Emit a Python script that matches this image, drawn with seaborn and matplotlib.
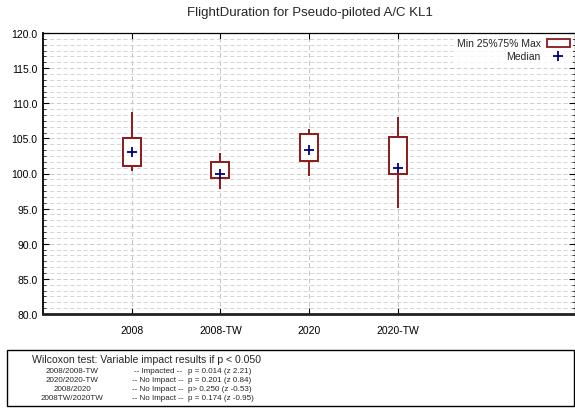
import numpy as np
import pandas as pd
import seaborn as sns
import matplotlib
matplotlib.use("Agg")
import matplotlib.pyplot as plt
from matplotlib.patches import Patch, Rectangle
from matplotlib.lines import Line2D
from matplotlib.ticker import MultipleLocator

# ---- data ----
categories = ["2008", "2008-TW", "2020", "2020-TW"]
mins = [100.4, 97.8, 99.7, 95.1]
q1s = [101.0, 99.3, 101.8, 99.9]
medians = [103.1, 100.0, 103.35, 100.8]
q3s = [105.0, 101.7, 105.6, 105.25]
maxs = [108.8, 102.9, 106.3, 108.0]

test_pairs = ["2008/2008-TW", "2020/2020-TW", "2008/2020", "2008TW/2020TW"]
test_results = ["-- Impacted --", "-- No Impact --", "-- No Impact --", "-- No Impact --"]
test_stats = ["p = 0.014 (z 2.21)", "p = 0.201 (z 0.84)", "p> 0.250 (z -0.53)", "p = 0.174 (z -0.95)"]

title = "FlightDuration for Pseudo-piloted A/C KL1"
header = "Wilcoxon test: Variable impact results if p < 0.050"

# long-form table: five summary values per category reproduce the box exactly
rows = []
for c, a, b, m, d, e in zip(categories, mins, q1s, medians, q3s, maxs):
    for v in (a, b, m, d, e):
        rows.append({"cat": c, "val": v})
df = pd.DataFrame(rows)
med_df = pd.DataFrame({"cat": categories, "val": medians})

sns.set_theme(style="white")
plt.rcParams["font.family"] = ["Liberation Sans", "DejaVu Sans"]

box_col = "#8b1a1a"
med_col = "#000080"

fig = plt.figure(figsize=(5.75, 4.14), dpi=100)
ax = fig.add_axes([43 / 575, 1 - 315 / 414, 1 - 43 / 575, (315 - 34) / 414])

sns.boxplot(data=df, x="cat", y="val", order=categories, whis=(0, 100), width=0.2,
            ax=ax, color="white", linecolor=box_col, linewidth=1.4,
            showcaps=False, medianprops={"visible": False}, fliersize=0, zorder=3)
sns.scatterplot(data=med_df, x="cat", y="val", marker="+", s=55, color=med_col,
                linewidth=1.3, ax=ax, zorder=5, legend=False)

ax.set_xlim(-1, 5)
ax.set_ylim(80, 120)
ax.yaxis.set_major_locator(MultipleLocator(5))
ax.yaxis.set_minor_locator(MultipleLocator(5 / 6))
ax.set_yticklabels([f"{v:.1f}" for v in ax.get_yticks()])
ax.set_xlabel("")
ax.set_ylabel("")

dash = (0, (5, 3))
ax.grid(which="major", axis="y", color="#c4c4c4", linestyle=dash, linewidth=0.6)
ax.grid(which="minor", axis="y", color="#cfcfcf", linestyle=dash, linewidth=0.6)
ax.grid(which="major", axis="x", color="#c4c4c4", linestyle=dash, linewidth=0.7)
ax.set_axisbelow(True)

ax.tick_params(axis="both", which="major", direction="in", length=4, width=0.8,
               labelsize=7.5, colors="black", top=True, right=True, left=True, bottom=True, pad=4)
ax.tick_params(axis="y", which="minor", direction="in", length=2, width=0.6, left=True, right=True)
ax.tick_params(axis="x", which="major", pad=8)
for s in ["left", "top", "right"]:
    ax.spines[s].set_color("black")
    ax.spines[s].set_linewidth(0.9)
ax.spines["left"].set_linewidth(1.3)
ax.spines["bottom"].set_color("#222222")
ax.spines["bottom"].set_linewidth(2.0)

handles = [Patch(facecolor="white", edgecolor=box_col, linewidth=1.3),
           Line2D([], [], marker="+", color=med_col, linestyle="none", markersize=7, markeredgewidth=1.3)]
leg = ax.legend(handles, ["Min 25%75% Max", "Median"], loc="upper right",
                markerfirst=False, frameon=True, fontsize=7.5, handlelength=2.2,
                handleheight=0.8, borderaxespad=0.2, labelspacing=0.3, borderpad=0.3,
                handletextpad=0.6, fancybox=False)
leg.get_frame().set_edgecolor("none")
leg.get_frame().set_facecolor("white")
for t in leg.get_texts():
    t.set_ha("right")
leg._legend_box.align = "right"

fig.text(310 / 575, 1 - 13 / 414, title, ha="center", va="center", fontsize=9.5)

# bottom box
fig.patches.append(Rectangle((7 / 575, 1 - 407 / 414), (574 - 7) / 575, (407 - 351) / 414,
                             transform=fig.transFigure, facecolor="white",
                             edgecolor="black", linewidth=1.0))
fig.text(32 / 575, 1 - 360 / 414, header, ha="left", va="center", fontsize=7.6)
row_y = [371.5, 380.5, 389.5, 398.5]
for y, p, r, st in zip(row_y, test_pairs, test_results, test_stats):
    fig.text(72 / 575, 1 - y / 414, p, ha="center", va="center", fontsize=5.8)
    fig.text(158 / 575, 1 - y / 414, r, ha="center", va="center", fontsize=5.8)
    fig.text(188 / 575, 1 - y / 414, st, ha="left", va="center", fontsize=5.8)

fig.savefig("out.png", dpi=100)
